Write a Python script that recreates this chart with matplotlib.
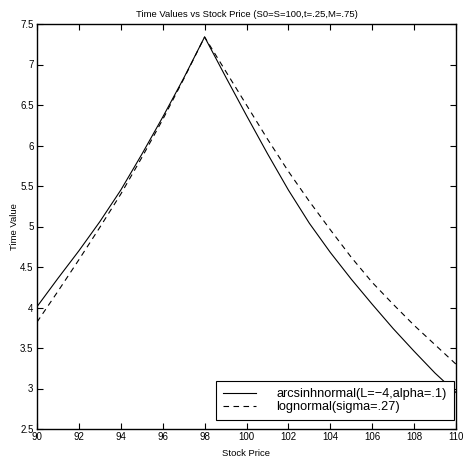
import matplotlib
matplotlib.use("Agg")
import matplotlib.pyplot as plt

# stock prices and time values
price = [90, 91, 92, 93, 94, 95, 96, 97, 98, 99, 100, 101, 102, 103, 104, 105, 106, 107, 108, 109, 110]
arcsinh_tv = [4.01, 4.36, 4.70, 5.06, 5.45, 5.89, 6.35, 6.83, 7.34,
              6.85, 6.37, 5.90, 5.45, 5.04, 4.68, 4.35, 4.04, 3.74, 3.46, 3.19, 2.95]
lognorm_tv = [3.82, 4.20, 4.59, 4.99, 5.40, 5.85, 6.32, 6.82, 7.34,
              6.92, 6.50, 6.08, 5.68, 5.31, 4.96, 4.62, 4.31, 4.04, 3.78, 3.54, 3.30]

x_ticks = list(range(90, 111, 2))
y_ticks = [2.5, 3, 3.5, 4, 4.5, 5, 5.5, 6, 6.5, 7, 7.5]
y_labels = ["2.5", "3", "3.5", "4", "4.5", "5", "5.5", "6", "6.5", "7", "7.5"]

plt.rcParams["font.family"] = ["Liberation Sans", "DejaVu Sans"]

fig = plt.figure(figsize=(4.64, 4.62), dpi=100)
ax = fig.add_axes([37 / 464, 1 - 429 / 462, 419 / 464, 405 / 462])

ax.plot(price, arcsinh_tv, color="black", linewidth=0.8, linestyle="-",
        label="arcsinhnormal(L=\u22124,alpha=.1)")
ax.plot(price, lognorm_tv, color="black", linewidth=0.8, linestyle=(0, (5, 4)),
        label="lognormal(sigma=.27)")

ax.set_xlim(90, 110)
ax.set_ylim(2.5, 7.5)
ax.set_xticks(x_ticks)
ax.set_yticks(y_ticks)
ax.set_yticklabels(y_labels)
ax.tick_params(direction="in", length=4, width=0.8, labelsize=7,
               top=True, right=True, pad=2.5)
for s in ax.spines.values():
    s.set_linewidth(1.0)

ax.set_title("Time Values vs Stock Price (S0=S=100,t=.25,M=.75)", fontsize=6.8, pad=5)
ax.set_xlabel("Stock Price", fontsize=6.8, labelpad=5)
ax.set_ylabel("Time Value", fontsize=6.8, labelpad=1)

leg = ax.legend(loc="lower right", bbox_to_anchor=(0.995, 0.022), fontsize=9.2,
                frameon=True, fancybox=False, edgecolor="black", framealpha=1,
                handlelength=2.55, handletextpad=1.6, labelspacing=0.05,
                borderpad=0.55, borderaxespad=0)
leg.get_frame().set_linewidth(0.8)

fig.savefig("out.png", dpi=100)
plt.close(fig)
